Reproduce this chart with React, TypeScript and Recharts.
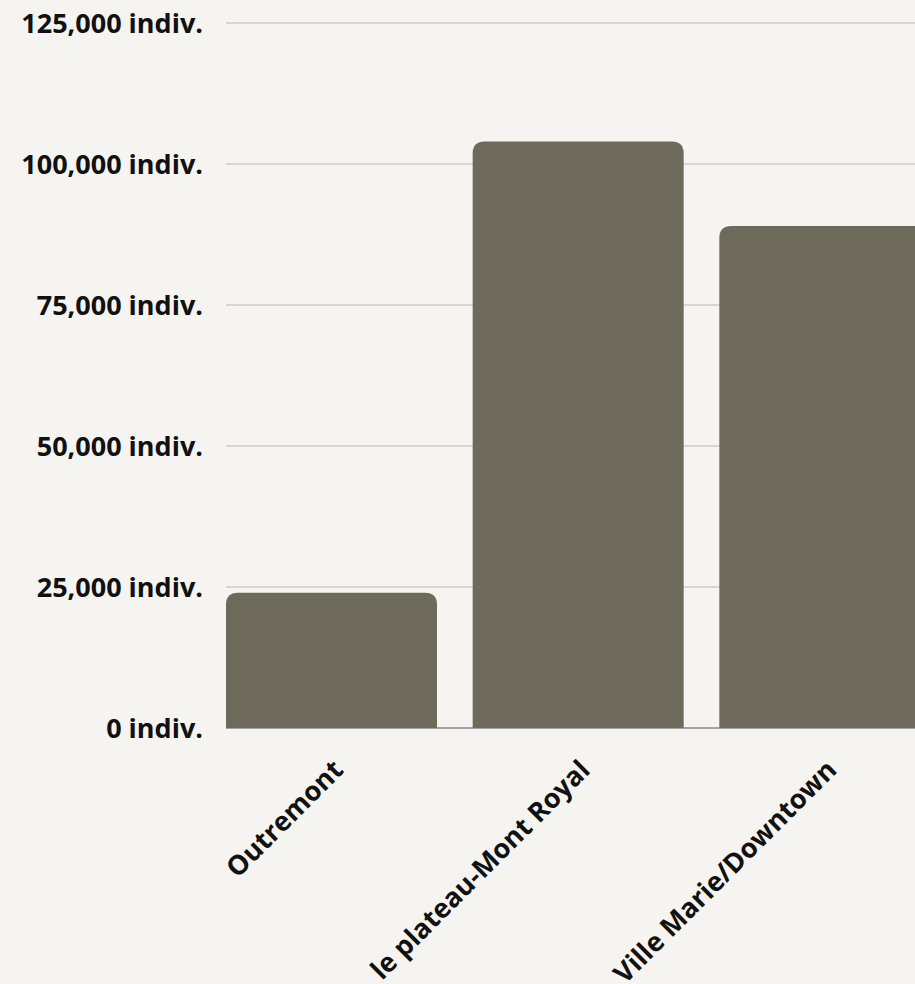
import React from 'react';
import { BarChart, Bar, XAxis, YAxis, CartesianGrid } from 'recharts';

const categories = ['Outremont', 'le plateau-Mont Royal', 'Ville Marie/Downtown'];
const population = [24000, 104000, 89000];
const yTicks = [0, 25000, 50000, 75000, 100000, 125000];

const data = categories.map((name, i) => ({ name, value: population[i] }));

const BAR_COLOR = '#6d6a5b';
const BG = '#f5f4f0';
const GAP = 36;

const RoundedBar = (props: any) => {
  const { x, y, width, height } = props;
  const w = width - GAP;
  const r = Math.min(12, height, w / 2);
  if (height <= 0) return null;
  const d = `M${x},${y + height} L${x},${y + r} Q${x},${y} ${x + r},${y} L${x + w - r},${y} Q${x + w},${y} ${x + w},${y + r} L${x + w},${y + height} Z`;
  return <path d={d} fill={BAR_COLOR} />;
};

const XTick = (props: any) => {
  const { x, y, payload } = props;
  return (
    <g transform={`translate(${x - GAP / 2},${y})`}>
      <text
        transform="rotate(-45)"
        textAnchor="end"
        dy="0.71em"
        fill="#111111"
        fontSize={27}
        fontWeight={700}
        fontFamily='"Open Sans", sans-serif'
      >
        {payload.value}
      </text>
    </g>
  );
};

const fmt = (v: number) => `${v.toLocaleString('en-US')} indiv.`;

export default function App() {
  return (
    <div style={{ position: 'fixed', left: 0, top: 0, width: 915, height: 984, overflow: 'hidden', background: BG }}>
      <BarChart
        width={966}
        height={984}
        data={data}
        margin={{ top: 23, right: 0, bottom: 0, left: 0 }}
        barCategoryGap={0}
        style={{ fontFamily: '"Open Sans", sans-serif' }}
      >
        <CartesianGrid vertical={false} stroke="#b8b7b2" strokeWidth={1} />
        <YAxis
          width={226}
          domain={[0, 125000]}
          ticks={yTicks}
          tickFormatter={fmt}
          axisLine={false}
          tickLine={false}
          tickSize={0}
          tickMargin={23}
          interval={0}
          tick={{ fill: '#111111', fontSize: 27, fontWeight: 700 }}
        />
        <XAxis
          dataKey="name"
          height={256}
          interval={0}
          tickLine={false}
          tickSize={0}
          tickMargin={30}
          axisLine={{ stroke: '#6f6f6f' }}
          tick={<XTick />}
        />
        <Bar dataKey="value" shape={RoundedBar} isAnimationActive={false} />
      </BarChart>
    </div>
  );
}
